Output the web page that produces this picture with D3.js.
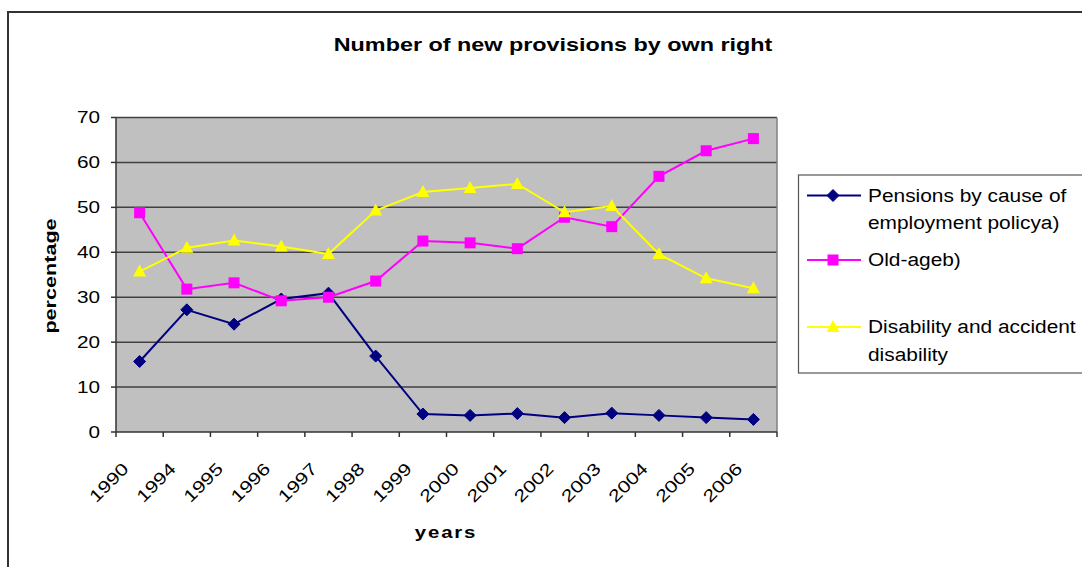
<!DOCTYPE html>
<html>
<head>
<meta charset="utf-8">
<script src="https://cdn.jsdelivr.net/npm/d3@7"></script>
<style>
  html, body { margin: 0; padding: 0; background: #fff; }
  svg { display: block; }
  text { font-family: "Liberation Sans", Arial, sans-serif; fill: #000; }
</style>
</head>
<body>
<svg id="chart" width="1082" height="567"></svg>
<script>
// Data
const years = ["1990", "1994", "1995", "1996", "1997", "1998", "1999", "2000", "2001", "2002", "2003", "2004", "2005", "2006"];
const pensions   = [15.7, 27.2, 24.0, 29.6, 30.9, 16.9, 4.0, 3.7, 4.1, 3.2, 4.2, 3.7, 3.2, 2.8];
const oldAge     = [48.8, 31.8, 33.2, 29.2, 30.0, 33.6, 42.5, 42.1, 40.8, 47.8, 45.7, 56.9, 62.6, 65.3];
const disability = [35.7, 41.0, 42.6, 41.3, 39.6, 49.3, 53.4, 54.3, 55.2, 48.9, 50.3, 39.6, 34.2, 32.0];
const yTicks = [0, 10, 20, 30, 40, 50, 60, 70];

const series = [
  { name: ["Pensions by cause of", "employment policya)"], values: pensions,   color: "#000080", marker: "diamond" },
  { name: ["Old-ageb)"],                                  values: oldAge,     color: "#FF00FF", marker: "square" },
  { name: ["Disability and accident", "disability"],     values: disability, color: "#FFFF00", marker: "triangle" }
];

const svg = d3.select("#chart");

// Text drawn with a horizontal stretch along its own direction
function stretchedText(parent, px, py, rot, str, o) {
  const g = parent.append("g")
    .attr("transform", `translate(${px},${py}) rotate(${rot}) scale(${o.sx},1)`);
  g.append("text")
    .attr("font-size", o.size)
    .attr("font-weight", o.weight || "normal")
    .attr("letter-spacing", o.spacing || 0)
    .attr("text-anchor", o.anchor || "start")
    .attr("dominant-baseline", o.baseline || "auto")
    .text(str);
  return g;
}

// Outer chart frame
svg.append("rect")
  .attr("x", 8).attr("y", 12).attr("width", 1120).attr("height", 620)
  .attr("fill", "#fff").attr("stroke", "#333").attr("stroke-width", 2);

// Plot area
const plot = { left: 116, top: 117.5, right: 777, bottom: 432 };
const x = d3.scaleBand().domain(years).range([plot.left, plot.right]);
const y = d3.scaleLinear().domain([0, 70]).range([plot.bottom, plot.top]);

svg.append("rect")
  .attr("x", plot.left).attr("y", plot.top)
  .attr("width", plot.right - plot.left).attr("height", plot.bottom - plot.top)
  .attr("fill", "#C0C0C0");

// Gridlines
svg.append("g").selectAll("line").data(yTicks.filter(d => d > 0)).join("line")
  .attr("x1", plot.left).attr("x2", plot.right)
  .attr("y1", d => y(d)).attr("y2", d => y(d))
  .attr("stroke", "#404040").attr("stroke-width", 1.5);

// Right border of plot
svg.append("line")
  .attr("x1", plot.right).attr("x2", plot.right)
  .attr("y1", plot.top).attr("y2", plot.bottom)
  .attr("stroke", "#808080").attr("stroke-width", 1.5);

// Y axis
const yAxis = svg.append("g");
yAxis.append("line")
  .attr("x1", plot.left).attr("x2", plot.left)
  .attr("y1", plot.top).attr("y2", plot.bottom)
  .attr("stroke", "#333").attr("stroke-width", 1.5);
yAxis.selectAll("line.tick").data(yTicks).join("line").attr("class", "tick")
  .attr("x1", plot.left - 5).attr("x2", plot.left)
  .attr("y1", d => y(d)).attr("y2", d => y(d))
  .attr("stroke", "#333").attr("stroke-width", 1.5);
yTicks.forEach(d => stretchedText(svg, 100, y(d), 0, String(d),
  { size: 17, sx: 1.22, anchor: "end", baseline: "central" }));

// X axis
const xAxis = svg.append("g");
xAxis.append("line")
  .attr("x1", plot.left).attr("x2", plot.right)
  .attr("y1", plot.bottom).attr("y2", plot.bottom)
  .attr("stroke", "#333").attr("stroke-width", 1.5);
const bounds = years.map(d => x(d)).concat([plot.right]);
xAxis.selectAll("line.tick").data(bounds).join("line").attr("class", "tick")
  .attr("x1", d => d).attr("x2", d => d)
  .attr("y1", plot.bottom).attr("y2", plot.bottom + 5)
  .attr("stroke", "#333").attr("stroke-width", 1.5);
years.forEach(d => stretchedText(svg, x(d) + x.bandwidth() / 2 - 10, 470, -45, d,
  { size: 17, sx: 1.25, anchor: "end" }));

// Axis titles and chart title
stretchedText(svg, 553, 45, 0, "Number of new provisions by own right",
  { size: 19, sx: 1.23, weight: "bold", anchor: "middle", baseline: "central" });
stretchedText(svg, 446, 532, 0, "years",
  { size: 17, sx: 1.2, weight: "bold", anchor: "middle", baseline: "central", spacing: 1.5 });
stretchedText(svg, 50, 276, -90, "percentage",
  { size: 17, sx: 1.27, weight: "bold", anchor: "middle", baseline: "central" });

// Marker shapes
function drawMarker(g, type, cx, cy, color) {
  if (type === "diamond") {
    g.append("path")
      .attr("d", `M${cx},${cy - 6}L${cx + 6},${cy}L${cx},${cy + 6}L${cx - 6},${cy}Z`)
      .attr("fill", color).attr("stroke", color).attr("stroke-width", 1);
  } else if (type === "square") {
    g.append("rect")
      .attr("x", cx - 5.5).attr("y", cy - 5.5).attr("width", 11).attr("height", 11)
      .attr("fill", color);
  } else {
    g.append("path")
      .attr("d", `M${cx},${cy - 7}L${cx + 6.5},${cy + 5}L${cx - 6.5},${cy + 5}Z`)
      .attr("fill", color);
  }
}

// Series lines and markers
const line = d3.line()
  .x((d, i) => x(years[i]) + x.bandwidth() / 2)
  .y(d => y(d));

series.forEach(s => {
  const g = svg.append("g");
  g.append("path")
    .attr("d", line(s.values))
    .attr("fill", "none").attr("stroke", s.color).attr("stroke-width", 2);
  s.values.forEach((v, i) => drawMarker(g, s.marker, x(years[i]) + x.bandwidth() / 2, y(v), s.color));
});

// Legend
const legend = svg.append("g");
legend.append("rect")
  .attr("x", 798.5).attr("y", 175).attr("width", 320).attr("height", 198)
  .attr("fill", "#fff").attr("stroke", "#555").attr("stroke-width", 1.2);
const legendRows = [195.5, 260, 327];
series.forEach((s, i) => {
  const ly = legendRows[i];
  legend.append("line")
    .attr("x1", 807).attr("x2", 861).attr("y1", ly).attr("y2", ly)
    .attr("stroke", s.color).attr("stroke-width", 2);
  drawMarker(legend, s.marker, 833, ly, s.color);
  s.name.forEach((t, j) => stretchedText(legend, 868, ly + j * 27.5, 0, t,
    { size: 18, sx: 1.16, anchor: "start", baseline: "central" }));
});
</script>
</body>
</html>
